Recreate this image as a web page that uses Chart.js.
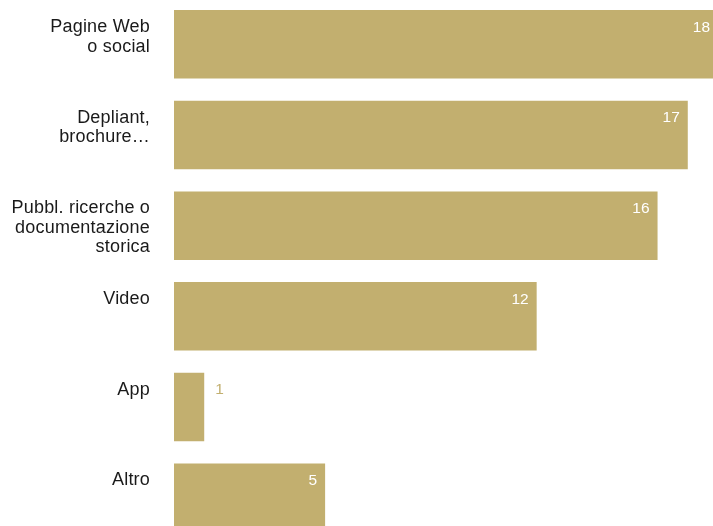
<!DOCTYPE html>
<html>
<head>
<meta charset="utf-8">
<script src="https://cdn.jsdelivr.net/npm/chart.js@4"></script>
<style>
  html, body { margin: 0; padding: 0; background: #fff; overflow: hidden; }
  body { width: 713px; height: 526px; position: relative; }
  #chart { position: absolute; left: 0; top: -1px; }
</style>
</head>
<body>
<canvas id="chart" width="718" height="544"></canvas>
<script>
// ── Data ────────────────────────────────────────────────────────────────────
const categories = [
  ["Pagine Web", "o social"],
  ["Depliant,", "brochure…"],
  ["Pubbl. ricerche o", "documentazione", "storica"],
  ["Video"],
  ["App"],
  ["Altro"],
];
const values = [18, 17, 16, 12, 1, 5];

// ── Style ───────────────────────────────────────────────────────────────────
const BAR_COLOR = "#c2af6f";
const FONT = '"Liberation Sans", Arial, Helvetica, sans-serif';

// Category labels sit to the left of each bar, right-aligned and
// lined up with the bar's top edge rather than its centre.
const sideLabels = {
  id: "sideLabels",
  afterDatasetsDraw(chart) {
    const ctx = chart.ctx;
    const bars = chart.getDatasetMeta(0).data;
    ctx.save();
    ctx.font = `18px ${FONT}`;
    ctx.letterSpacing = "0.2px";
    ctx.fillStyle = "#1a1a1a";
    ctx.textAlign = "right";
    ctx.textBaseline = "alphabetic";
    bars.forEach((bar, i) => {
      const top = bar.y - bar.height / 2;
      categories[i].forEach((line, j) => {
        ctx.fillText(line, 150, top + 22 + j * 19.5);
      });
    });
    ctx.restore();
  },
};

// Value labels: inside the bar end in white, or just past it when the bar is too short.
const valueLabels = {
  id: "valueLabels",
  afterDatasetsDraw(chart) {
    const ctx = chart.ctx;
    const bars = chart.getDatasetMeta(0).data;
    ctx.save();
    ctx.font = `15.5px ${FONT}`;
    ctx.textBaseline = "alphabetic";
    bars.forEach((bar, i) => {
      const text = String(values[i]);
      const top = bar.y - bar.height / 2;
      if (bar.x - bar.base > 40) {
        ctx.fillStyle = "#ffffff";
        ctx.textAlign = "right";
        ctx.fillText(text, bar.x - 8, top + 21.5);
      } else {
        ctx.fillStyle = BAR_COLOR;
        ctx.textAlign = "left";
        ctx.fillText(text, bar.x + 11, top + 21.5);
      }
    });
    ctx.restore();
  },
};

new Chart(document.getElementById("chart"), {
  type: "bar",
  data: {
    labels: categories,
    datasets: [{
      data: values,
      backgroundColor: BAR_COLOR,
      borderWidth: 0,
      barPercentage: 0.756,
      categoryPercentage: 1,
    }],
  },
  options: {
    indexAxis: "y",
    responsive: false,
    animation: false,
    layout: { padding: { left: 174, right: 0, top: 0, bottom: 0 } },
    scales: {
      x: { display: false, min: 0, max: 18 },
      y: { display: false },
    },
    plugins: {
      legend: { display: false },
      tooltip: { enabled: false },
    },
  },
  plugins: [sideLabels, valueLabels],
});
</script>
</body>
</html>
